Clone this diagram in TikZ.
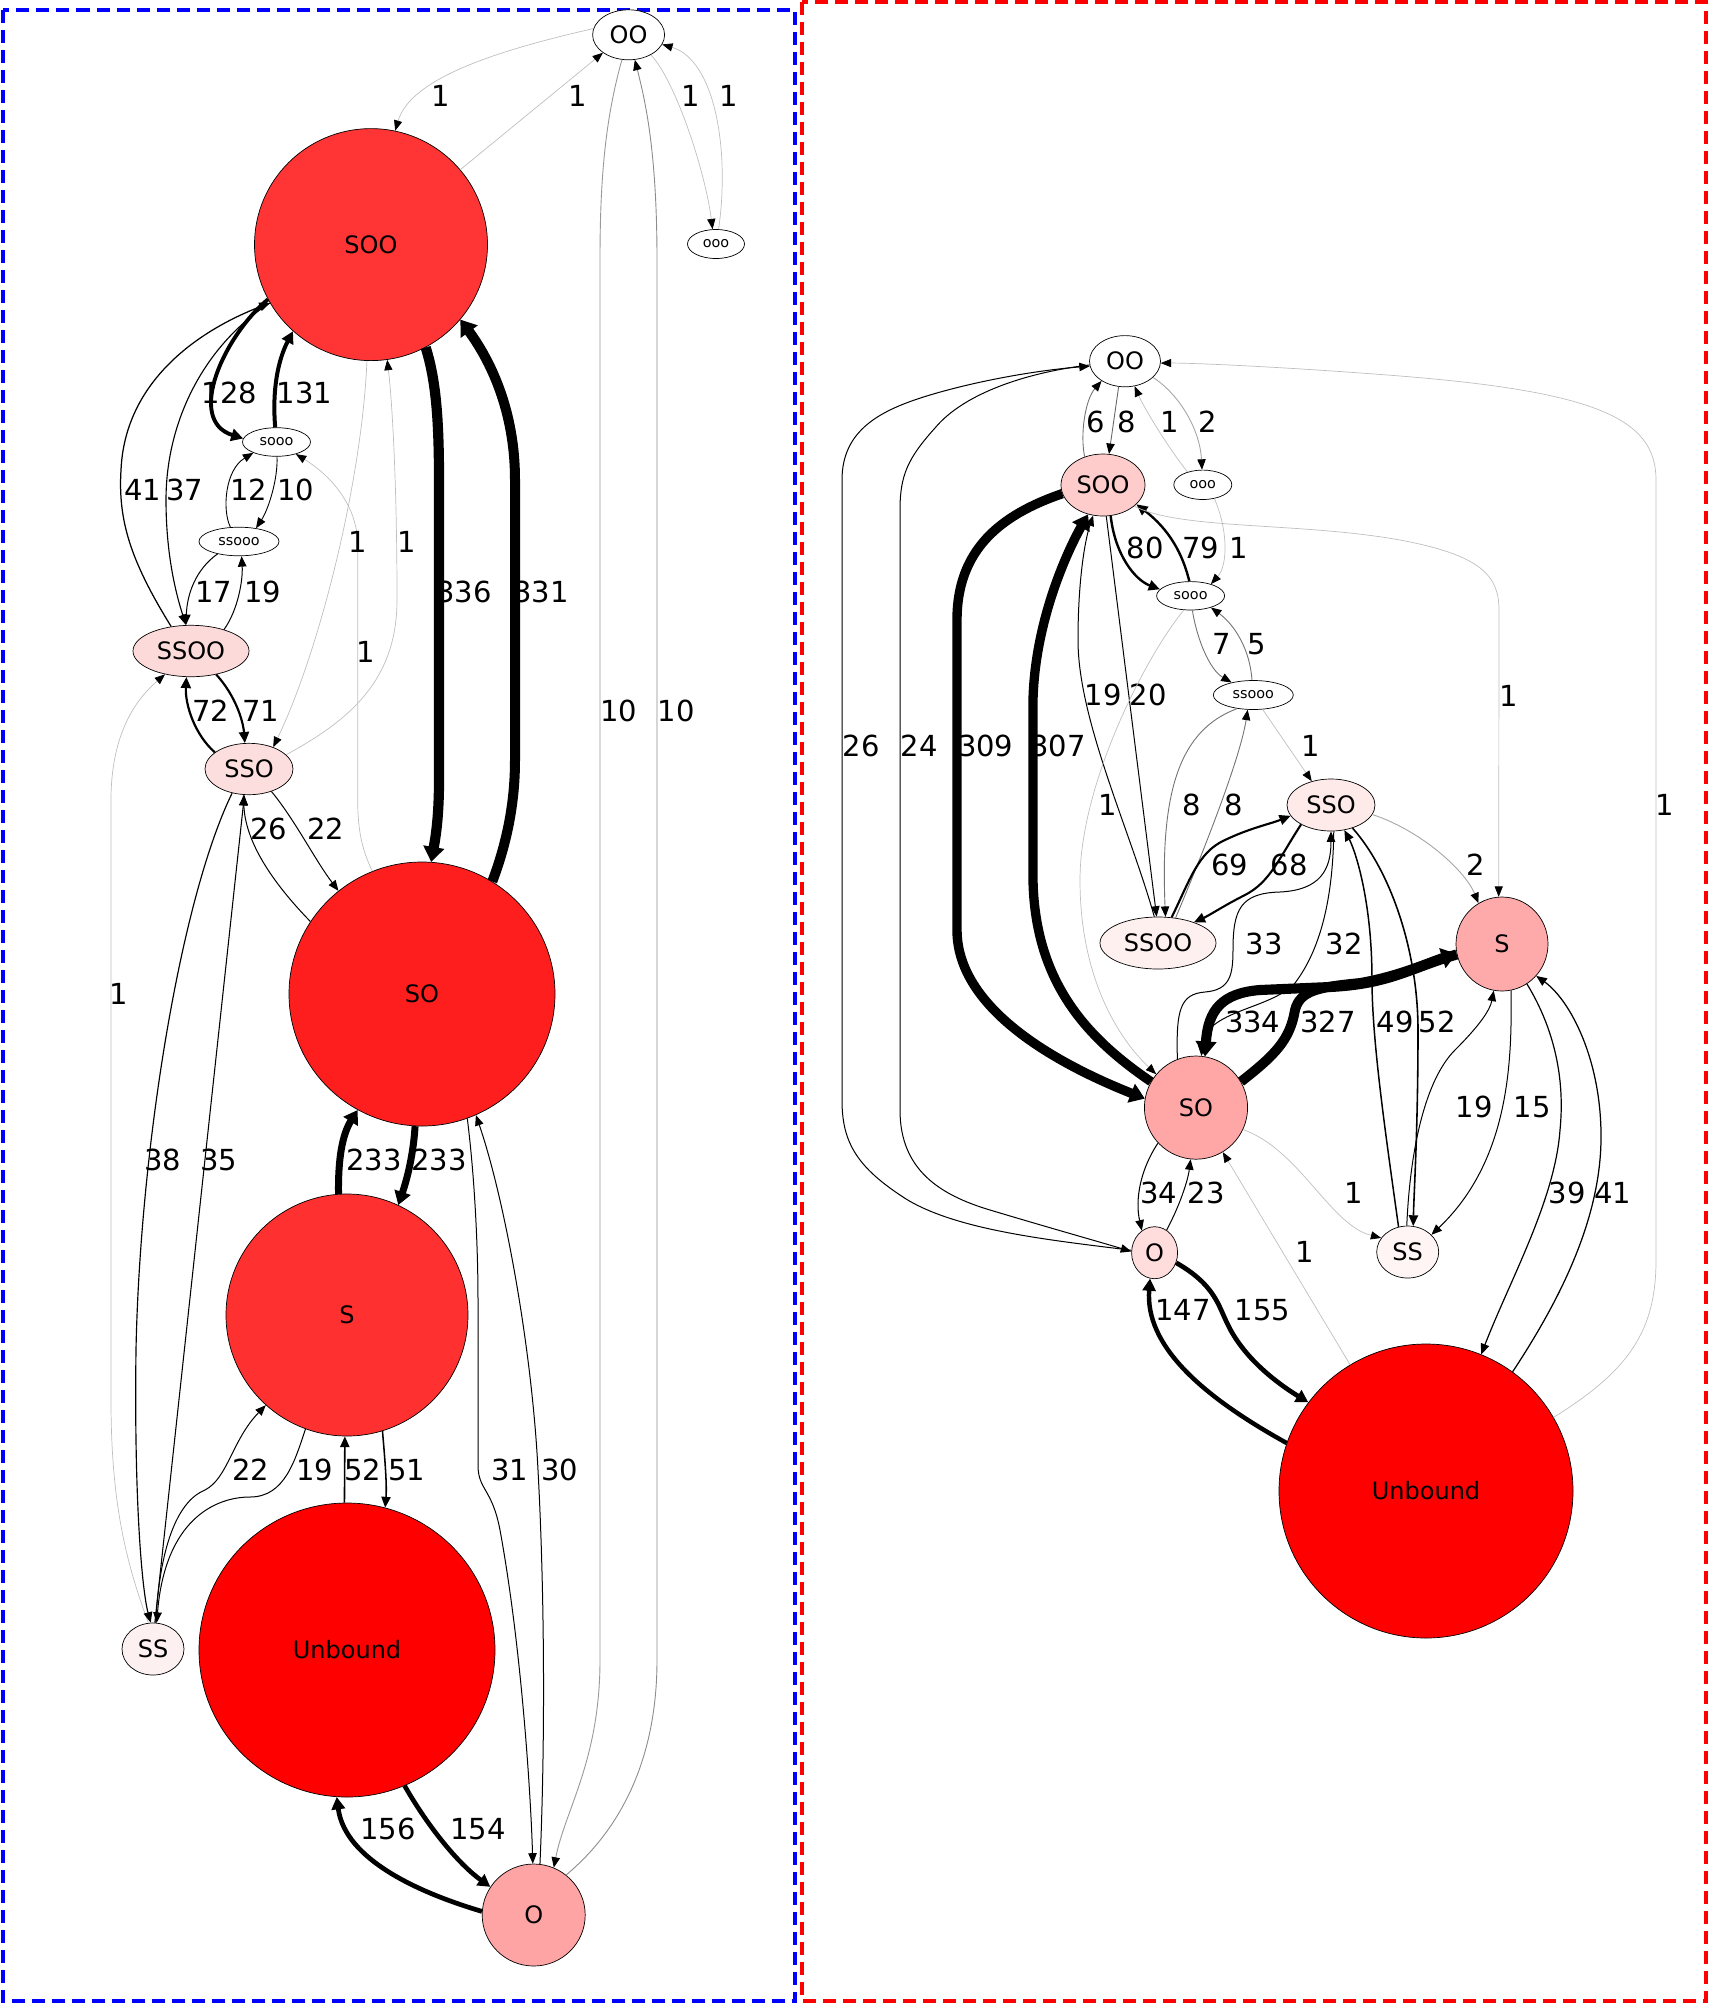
\documentclass[tikz,border=0pt]{standalone}
\usepackage{fontspec}
\setmainfont{DejaVu Sans}
\usetikzlibrary{shapes.geometric, arrows.meta}
\definecolor{cFrameL}{RGB}{0,0,255}
\definecolor{cFrameR}{RGB}{255,0,0}
\definecolor{cUnb}{RGB}{255,0,0}
\definecolor{cSOOl}{RGB}{255,53,53}
\definecolor{cSOl}{RGB}{255,30,30}
\definecolor{cSl}{RGB}{255,48,48}
\definecolor{cOl}{RGB}{255,164,164}
\definecolor{cSSOOl}{RGB}{253,218,218}
\definecolor{cSSOl}{RGB}{253,222,222}
\definecolor{cSSl}{RGB}{253,240,240}
\definecolor{cSOOr}{RGB}{255,204,204}
\definecolor{cSOr}{RGB}{255,166,166}
\definecolor{cSr}{RGB}{255,170,170}
\definecolor{cOr}{RGB}{255,221,221}
\definecolor{cSSOr}{RGB}{255,234,234}
\definecolor{cSSOOr}{RGB}{255,240,240}
\definecolor{cSSr}{RGB}{255,245,245}
\newcommand\labfont{\fontsize{14.5}{16}\selectfont}
\newcommand\statefont{\fontsize{12}{14}\selectfont}
\newcommand\minorfont{\fontsize{7.2}{8}\selectfont}
\tikzset{
	state/.style ={ellipse, draw=black, line width=0.35pt, inner sep=0pt, font=\statefont, fill=white},
	minor/.style ={state, font=\minorfont},
	dims/.style 2 args={minimum width=#1pt, minimum height=#2pt},
	tip/.style   ={-{Triangle[length=5pt 0.5, width=3.6pt 1.3, color=black]}},
	fl/.style    ={tip, draw=black, line width=#1},
	faint/.style ={tip, draw=black!25, line width=0.35pt},
	grey/.style  ={tip, draw=black!#1, line width=0.45pt},
	lab/.style   ={font=\labfont, inner sep=0pt},
	frame/.style ={dash pattern=on 6.5pt off 3.5pt, line width=2pt},
}

\begin{document}
\begin{tikzpicture}[x=0.5pt, y=-0.5pt]
\useasboundingbox (0,0) rectangle (1710,2004);
\draw[frame, cFrameL] (2.5,10) rectangle (795,2001);
\draw[frame, cFrameR] (801.7,2.3) rectangle (1706,2001);
% left panel states
\node[state, dims={36}{25}] (lOO) at (628.6,34.8) {OO};
\node[state, dims={116.5}{116}, fill=cSOOl] (lSOO) at (371,244.6) {SOO};
\node[minor, dims={28.5}{14.5}] (looo) at (716,244) {ooo};
\node[minor, dims={34}{14.3}] (lsooo) at (276.5,442) {sooo};
\node[minor, dims={40}{14.3}] (lssooo) at (239,541.5) {ssooo};
\node[state, dims={58}{25.7}, fill=cSSOOl] (lSSOO) at (191,651) {SSOO};
\node[state, dims={44}{25.7}, fill=cSSOl] (lSSO) at (249,769) {SSO};
\node[state, dims={133}{132}, fill=cSOl] (lSO) at (422,994) {SO};
\node[state, dims={121}{121}, fill=cSl] (lS) at (347,1315) {S};
\node[state, dims={148}{147}, fill=cUnb] (lUnb) at (347,1650) {Unbound};
\node[state, dims={31}{26}, fill=cSSl] (lSS) at (153,1649) {SS};
\node[state, dims={51.5}{51}, fill=cOl] (lO) at (533.7,1915) {O};
% left panel transitions
\draw[faint] (lOO.170) .. controls (490,52) and (410,80) .. (lSOO.78) node[lab] at (441,96) {1};
\draw[faint] (lSOO.40) -- (lOO.215) node[lab] at (578,96) {1};
\draw[faint] (lOO.-42) .. controls (675,80) and (705,170) .. (looo.103) node[lab] at (691,96) {1};
\draw[faint] (looo.80) .. controls (730,150) and (715,60) .. (lOO.-16) node[lab] at (728.6,96) {1};
\draw[grey=40] (lOO.-105) .. controls (605,120) and (600,180) .. (600,260) -- (600,1660) .. controls (600,1760) and (565,1810) .. (lO.67) node[lab] at (619,711) {10};
\draw[grey=45] (lO.51) .. controls (620,1830) and (657,1760) .. (657,1660) -- (657,260) .. controls (657,150) and (645,100) .. (lOO.-76) node[lab] at (676,711) {10};
\draw[fl=1.95pt] (lSOO.208) .. controls (225,335) and (185,420) .. (lsooo.174) node[lab] at (229.6,393) {128};
\draw[fl=2pt] (lsooo.95) .. controls (272,390) and (278,360) .. (lSOO.228) node[lab] at (304.6,393) {131};
\draw[fl=0.62pt] (lSSOO.129) .. controls (130,560) and (118,520) .. (121,470) .. controls (125,380) and (200,330) .. (lSOO.210) node[lab] at (143,490) {41};
\draw[fl=0.56pt] (lSOO.210) .. controls (205,345) and (166,420) .. (166,500) .. controls (166,560) and (178,600) .. (lSSOO.101) node[lab] at (185,490) {37};
\draw[fl=0.45pt] (lsooo.-88) .. controls (278,480) and (268,510) .. (lssooo.38) node[lab] at (296,490) {10};
\draw[fl=0.45pt] (lssooo.121) .. controls (222,510) and (225,470) .. (lsooo.205) node[lab] at (248.5,490) {12};
\draw[fl=0.5pt] (lssooo.210) .. controls (195,570) and (187,595) .. (lSSOO.101) node[lab] at (214,591.5) {17};
\draw[fl=0.5pt] (lSSOO.33) .. controls (238,610) and (243,580) .. (lssooo.-80) node[lab] at (262.8,591.5) {19};
\draw[faint] (lSO.112) .. controls (362,850) and (357.7,830) .. (357.7,800) -- (357.7,545) .. controls (357.7,505) and (330,475) .. (lsooo.-32) node[lab] at (357.7,541.7) {1};
\draw[faint] (lSOO.-92) .. controls (362,480) and (320,650) .. (lSSO.42) node[lab] at (366,651.7) {1};
\draw[faint] (lSSO.21) .. controls (350,720) and (397,680) .. (397,600) .. controls (397,480) and (392,400) .. (lSOO.-82) node[lab] at (407,541.7) {1};
\draw[fl=1.1pt] (lSSO.154) .. controls (195,735) and (185,705) .. (lSSOO.-100) node[lab] at (210.7,710.7) {72};
\draw[fl=1.08pt] (lSSOO.-43) .. controls (235,695) and (243,720) .. (lSSO.99) node[lab] at (261,710.7) {71};
\draw[faint] (lSS.100) .. controls (125,1560) and (111,1500) .. (111,1400) -- (111,800) .. controls (111,735) and (135,700) .. (lSSOO.-138) node[lab] at (119,993.75) {1};
\draw[fl=0.5pt] (lSSO.-45) .. controls (295,820) and (315,860) .. (lSO.129) node[lab] at (325.5,829) {22};
\draw[fl=0.5pt] (lSO.147) .. controls (270,880) and (245,840) .. (lSSO.-102) node[lab] at (269,829) {26};
\draw[fl=5.1pt] (lSOO.-62) .. controls (436,380) and (439,420) .. (439,480) -- (439,780) .. controls (439,820) and (435,840) .. (lSO.86) node[lab] at (464,591.5) {336};
\draw[fl=5pt] (lSO.58) .. controls (508,840) and (515,800) .. (515,760) -- (515,480) .. controls (515,410) and (490,360) .. (lSOO.-40) node[lab] at (541,591.5) {331};
\draw[fl=3.5pt] (lS.94) .. controls (338,1160) and (342,1135) .. (lSO.-119) node[lab] at (374,1160) {233};
\draw[fl=3.5pt] (lSO.-93) .. controls (413,1160) and (405,1185) .. (lS.65) node[lab] at (438.8,1160) {233};
\draw[fl=0.58pt] (lSSO.-125) .. controls (180,900) and (140,1150) .. (136,1350) .. controls (134,1500) and (142,1590) .. (lSS.95) node[lab] at (163,1160) {38};
\draw[fl=0.53pt] (lSS.86) -- (lSSO.-100) node[lab] at (219,1160) {35};
\draw[fl=0.5pt] (lSS.84) .. controls (160,1540) and (180,1500) .. (205,1490) .. controls (228,1478) and (232,1440) .. (lS.228) node[lab] at (251,1470) {22};
\draw[fl=0.5pt] (lS.-110) .. controls (295,1460) and (285,1497) .. (250,1497) .. controls (215,1497) and (165,1520) .. (lSS.82) node[lab] at (315,1470) {19};
\draw[fl=0.79pt] (lUnb.91) -- (lS.-91) node[lab] at (363,1470) {52};
\draw[fl=0.77pt] (lS.-73) .. controls (385,1460) and (387,1485) .. (lUnb.75) node[lab] at (406.6,1470) {51};
\draw[fl=0.5pt] (lSO.-70) .. controls (475,1180) and (478,1250) .. (478,1300) -- (478,1465) .. controls (478,1490) and (492,1488) .. (500,1530) .. controls (522,1650) and (531,1800) .. (lO.91) node[lab] at (510,1470) {31};
\draw[fl=0.5pt] (lO.83) .. controls (545,1750) and (545,1600) .. (538,1470) .. controls (532,1350) and (505,1200) .. (lSO.-66) node[lab] at (559.7,1470) {30};
\draw[fl=2.33pt] (lUnb.-67) .. controls (430,1830) and (460,1865) .. (lO.147) node[lab] at (478,1829) {154};
\draw[fl=2.36pt] (lO.176) .. controls (420,1893) and (345,1860) .. (lUnb.-94) node[lab] at (387.8,1829) {156};
% right panel states
\node[state, dims={35.5}{25.6}] (rOO) at (1125,361.2) {OO};
\node[state, dims={42}{31}, fill=cSOOr] (rSOO) at (1103,485) {SOO};
\node[minor, dims={29}{14.7}] (rooo) at (1202.8,484.8) {ooo};
\node[minor, dims={34}{14.2}] (rsooo) at (1190.6,595.8) {sooo};
\node[minor, dims={40}{14.5}] (rssooo) at (1253.3,695) {ssooo};
\node[state, dims={44}{26}, fill=cSSOr] (rSSO) at (1331,805) {SSO};
\node[state, dims={58}{26}, fill=cSSOOr] (rSSOO) at (1158,943) {SSOO};
\node[state, dims={46}{47}, fill=cSr] (rS) at (1502,944) {S};
\node[state, dims={51.6}{51.6}, fill=cSOr] (rSO) at (1196,1107.6) {SO};
\node[state, dims={23}{26}, fill=cOr] (rO) at (1154.6,1252.7) {O};
\node[state, dims={31}{26}, fill=cSSr] (rSS) at (1407.7,1252) {SS};
\node[state, dims={147}{147}, fill=cUnb] (rUnb) at (1426,1491) {Unbound};
% right panel transitions
\draw[grey=55] (rSOO.123) .. controls (1080,435) and (1085,400) .. (rOO.220) node[lab] at (1096,421.7) {6};
\draw[grey=60] (rOO.-104) -- (rSOO.79) node[lab] at (1126.8,421.7) {8};
\draw[faint] (rooo.140) .. controls (1170,450) and (1145,410) .. (rOO.-69) node[lab] at (1169.7,421.7) {1};
\draw[grey=35] (rOO.-30) .. controls (1180,395) and (1200,430) .. (rooo.93) node[lab] at (1208,421.7) {2};
\draw[fl=1.2pt] (rSOO.-76) .. controls (1115,555) and (1135,580) .. (rsooo.168) node[lab] at (1145,548) {80};
\draw[fl=1.2pt] (rsooo.95) .. controls (1183,555) and (1170,530) .. (rSOO.-30) node[lab] at (1200.5,548) {79};
\draw[faint] (rooo.-50) .. controls (1228,530) and (1228,565) .. (rsooo.30) node[lab] at (1239,548) {1};
\draw[grey=55] (rsooo.-83) .. controls (1197,640) and (1210,670) .. (rssooo.150) node[lab] at (1222,644.4) {7};
\draw[grey=55] (rssooo.95) .. controls (1250,650) and (1235,625) .. (rsooo.-30) node[lab] at (1256.8,644.4) {5};
\draw[fl=0.5pt] (rSSOO.98) .. controls (1130,830) and (1078,720) .. (1078,640) .. controls (1078,580) and (1085,540) .. (rSOO.-108) node[lab] at (1103,695) {19};
\draw[fl=0.5pt] (rSOO.-84) -- (rSSOO.93) node[lab] at (1148,695) {20};
\draw[faint] (rsooo.-115) .. controls (1150,650) and (1080,780) .. (1080,880) .. controls (1080,980) and (1120,1040) .. (rSO.140) node[lab] at (1107.6,805) {1};
\draw[faint] (rssooo.-57) -- (rSSO.129) node[lab] at (1310.7,745.8) {1};
\draw[grey=55] (rssooo.-140) .. controls (1180,730) and (1160,790) .. (rSSOO.74) node[lab] at (1191.8,805) {8};
\draw[grey=55] (rSSOO.55) .. controls (1200,860) and (1240,760) .. (rssooo.-111) node[lab] at (1234,805) {8};
\draw[fl=1.05pt] (rSSO.-147) .. controls (1278,860) and (1270,882) .. (1245,895) .. controls (1225,905) and (1210,915) .. (rSSOO.30) node[lab] at (1289,864.7) {68};
\draw[fl=1.06pt] (rSSOO.62) .. controls (1190,880) and (1198,852) .. (1225,840) .. controls (1250,828) and (1270,824) .. (rSSO.195) node[lab] at (1229.5,864.7) {69};
\draw[fl=0.5pt] (rSO.111) .. controls (1176,1010) and (1180,994) .. (1205,992) .. controls (1230,990) and (1233,975) .. (1233,950) .. controls (1233,910) and (1240,893) .. (1280,892) .. controls (1320,890) and (1331,870) .. (rSSO.-90) node[lab] at (1264,943.75) {33};
\draw[fl=0.5pt] (rSSO.-84) .. controls (1333,900) and (1320,950) .. (1295,983) .. controls (1270,1010) and (1205,1010) .. (rSO.84) node[lab] at (1344.4,943.75) {32};
\draw[fl=5.05pt] (rS.193) .. controls (1410,968) and (1390,984) .. (1330,987) -- (1260,990) .. controls (1222,993) and (1208,1010) .. (rSO.80) node[lab] at (1252.7,1021.9) {334};
\draw[fl=4.95pt] (rSO.30) .. controls (1275,1055) and (1290,1040) .. (1295,1010) .. controls (1300,990) and (1320,987) .. (1360,983) .. controls (1400,976) and (1430,962) .. (rS.192) node[lab] at (1328,1021.9) {327};
\draw[fl=0.74pt] (rSS.110) .. controls (1385,1130) and (1372,1040) .. (1372,980) .. controls (1372,900) and (1355,850) .. (rSSO.-62) node[lab] at (1395,1021.9) {49};
\draw[fl=0.79pt] (rSSO.-47) .. controls (1390,870) and (1418,950) .. (1418,1030) .. controls (1418,1130) and (1414,1190) .. (rSS.78) node[lab] at (1437,1021.9) {52};
\draw[grey=35] (rSSO.-13) .. controls (1420,830) and (1465,870) .. (rS.120) node[lab] at (1476,864.5) {2};
\draw[faint] (rSOO.-34) .. controls (1180,530) and (1300,522) .. (1400,540) .. controls (1480,555) and (1499,575) .. (1499,610) -- (rS.94) node[lab] at (1509,696) {1};
\draw[faint] (rUnb.30) .. controls (1630,1370) and (1656,1330) .. (1656,1260) -- (1656,480) .. controls (1656,420) and (1600,392) .. (1400,376) .. controls (1300,368) and (1200,363) .. (rOO.-3) node[lab] at (1664.8,805) {1};
\draw[fl=0.5pt] (rO.174) .. controls (1050,1240) and (950,1230) .. (900,1195) .. controls (855,1165) and (842,1140) .. (842,1100) -- (842,480) .. controls (842,430) and (880,410) .. (930,395) .. controls (980,380) and (1040,370) .. (rOO.188) node[lab] at (861,745.8) {26};
\draw[fl=0.5pt] (rOO.186) .. controls (1030,372) and (965,392) .. (935,428) .. controls (908,458) and (900,475) .. (900,510) -- (900,1110) .. controls (900,1170) and (940,1195) .. (990,1210) .. controls (1050,1228) and (1100,1242) .. (rO.177) node[lab] at (919,745.8) {24};
\draw[fl=4.7pt] (rSOO.192) .. controls (1000,515) and (957,550) .. (957,620) -- (957,930) .. controls (957,1010) and (1060,1065) .. (rSO.170) node[lab] at (985.7,745.8) {309};
\draw[fl=4.65pt] (rSO.150) .. controls (1090,1040) and (1035,985) .. (1033,880) -- (1033,700) .. controls (1035,620) and (1068,550) .. (rSOO.-117) node[lab] at (1058,745.8) {307};
\draw[fl=0.52pt] (rSO.-137) .. controls (1140,1170) and (1135,1200) .. (rO.120) node[lab] at (1158.7,1192.9) {34};
\draw[fl=0.5pt] (rO.62) .. controls (1180,1205) and (1188,1180) .. (rSO.-96) node[lab] at (1206,1192.9) {23};
\draw[faint] (rSO.-25) .. controls (1300,1150) and (1330,1225) .. (rSS.152) node[lab] at (1354,1192.9) {1};
\draw[faint] (rUnb.121) -- (rSO.-59) node[lab] at (1305,1251.8) {1};
\draw[fl=0.5pt] (rSS.92) .. controls (1410,1150) and (1425,1080) .. (1455,1050) .. controls (1480,1025) and (1490,1010) .. (rS.-100) node[lab] at (1474.4,1106.7) {19};
\draw[fl=0.5pt] (rS.-79) .. controls (1512,1060) and (1510,1160) .. (rSS.36) node[lab] at (1532,1106.7) {15};
\draw[fl=0.6pt] (rS.-58) .. controls (1555,1030) and (1565,1080) .. (1560,1130) .. controls (1555,1200) and (1510,1280) .. (rUnb.68) node[lab] at (1567,1192.9) {39};
\draw[fl=0.62pt] (rUnb.54) .. controls (1560,1300) and (1600,1220) .. (1601,1140) .. controls (1602,1060) and (1570,1000) .. (rS.-43) node[lab] at (1612.5,1192.9) {41};
\draw[fl=2.35pt] (rO.-25) .. controls (1215,1285) and (1218,1305) .. (1228,1325) .. controls (1245,1360) and (1280,1385) .. (rUnb.143) node[lab] at (1262.6,1309.8) {155};
\draw[fl=2.23pt] (rUnb.161) .. controls (1200,1395) and (1145,1345) .. (rO.-100) node[lab] at (1183,1309.8) {147};
\end{tikzpicture}
\end{document}
